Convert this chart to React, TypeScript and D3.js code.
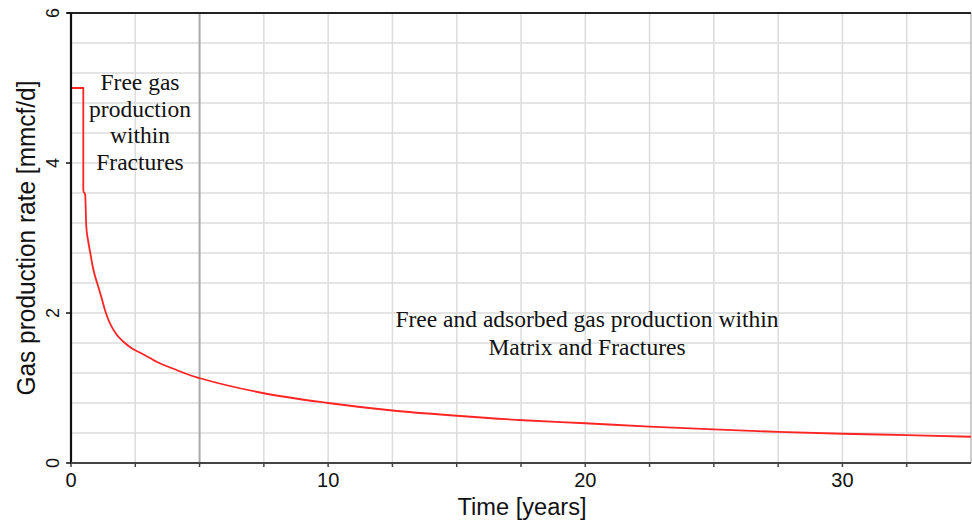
import React from "react";
import * as d3 from "d3";

// Gas production rate over time (years -> mmcf/d)
const years = [
  0, 0.478, 0.478, 0.55, 0.595, 0.673, 0.766, 0.844, 0.945, 1.06, 1.19, 1.32,
  1.49, 1.78, 2.03, 2.36, 2.75, 3.07, 3.33, 4.11, 4.63, 5.02, 7.5, 10,
  12.5, 15, 17.6, 20, 22.5, 25, 27.5, 30, 32.5, 35,
];
const rates = [
  5.0, 5.0, 3.62, 3.58, 3.15, 2.95, 2.77, 2.62, 2.48, 2.35, 2.2, 2.04, 1.88,
  1.71, 1.62, 1.53, 1.46, 1.4, 1.35, 1.24, 1.17, 1.13, 0.93, 0.8, 0.7,
  0.63, 0.57, 0.53, 0.485, 0.448, 0.415, 0.39, 0.372, 0.35,
];

const xTickLabels = [0, 10, 20, 30];
const yTickLabels = [0, 2, 4, 6];
const xGridStep = 2.5;
const yGridStep = 0.4;
const regimeBoundary = 5;

const fractureLines = ["Free gas", "production", "within", "Fractures"];
const matrixLines = [
  "Free and adsorbed gas production within",
  "Matrix and Fractures",
];

const W = 972;
const H = 521;
const plot = { left: 71, right: 971, top: 13, bottom: 463 };

export default function App() {
  const x = d3.scaleLinear().domain([0, 35]).range([plot.left, plot.right]);
  const y = d3.scaleLinear().domain([0, 6]).range([plot.bottom, plot.top]);

  const xGrid = d3.range(1, 14).map((i) => i * xGridStep);
  const yGrid = d3.range(1, 15).map((i) => i * yGridStep);

  const pts: [number, number][] = years.map((t, i) => [t, rates[i]]);
  // plateau and the sharp initial drop are straight; the decline is smoothed
  const plateau = pts.slice(0, 3);
  const decline = pts.slice(2);
  const straight = d3
    .line<[number, number]>()
    .x((d) => x(d[0]))
    .y((d) => y(d[1]));
  const smooth = d3
    .line<[number, number]>()
    .x((d) => x(d[0]))
    .y((d) => y(d[1]))
    .curve(d3.curveMonotoneX);

  const sans = "'Liberation Sans', Arial, sans-serif";
  const serif = "'Liberation Serif', 'Times New Roman', serif";

  return (
    <svg
      width={W}
      height={H}
      style={{ position: "absolute", left: 0, top: 0, background: "#fff" }}
    >
      {/* grid */}
      {yGrid.map((v) => (
        <line
          key={"gy" + v}
          x1={plot.left}
          x2={plot.right}
          y1={y(v)}
          y2={y(v)}
          stroke="#dcdcdc"
          strokeWidth={1.5}
        />
      ))}
      {xGrid
        .filter((v) => v !== regimeBoundary)
        .map((v) => (
          <line
            key={"gx" + v}
            x1={x(v)}
            x2={x(v)}
            y1={plot.top}
            y2={plot.bottom}
            stroke="#dcdcdc"
            strokeWidth={1.5}
          />
        ))}
      <line
        x1={x(regimeBoundary)}
        x2={x(regimeBoundary)}
        y1={plot.top}
        y2={plot.bottom}
        stroke="#aaaaaa"
        strokeWidth={2}
      />

      {/* frame */}
      <line x1={plot.right} x2={plot.right} y1={plot.top} y2={plot.bottom} stroke="#bbbbbb" strokeWidth={1.5} />
      <line x1={plot.left - 4} x2={plot.right} y1={plot.top} y2={plot.top} stroke="#222" strokeWidth={2} />

      {/* production curve */}
      <path d={straight(plateau) ?? ""} fill="none" stroke="#ff2424" strokeWidth={1.8} />
      <path d={smooth(decline) ?? ""} fill="none" stroke="#ff2424" strokeWidth={1.8} />

      {/* axes */}
      <line x1={plot.left} x2={plot.left} y1={plot.top} y2={plot.bottom + 1} stroke="#111" strokeWidth={2.2} />
      <line x1={plot.left} x2={plot.right} y1={plot.bottom} y2={plot.bottom} stroke="#444" strokeWidth={2.2} />
      {[0, ...xGrid].map((v) => (
        <line key={"tx" + v} x1={x(v)} x2={x(v)} y1={plot.bottom} y2={plot.bottom + 4} stroke="#444" strokeWidth={1.5} />
      ))}
      {yTickLabels.map((v) => (
        <line key={"ty" + v} x1={plot.left - 5} x2={plot.left} y1={y(v)} y2={y(v)} stroke="#111" strokeWidth={1.5} />
      ))}

      {xTickLabels.map((v) => (
        <text
          key={"lx" + v}
          x={x(v)}
          y={487}
          textAnchor="middle"
          fontFamily={sans}
          fontSize={20}
          fill="#111"
        >
          {v}
        </text>
      ))}
      {yTickLabels.map((v) => (
        <text
          key={"ly" + v}
          transform={`translate(59,${y(v)}) rotate(-90)`}
          textAnchor="middle"
          fontFamily={sans}
          fontSize={18}
          fill="#111"
        >
          {v}
        </text>
      ))}

      {/* axis titles */}
      <text
        x={(plot.left + plot.right) / 2 + 1}
        y={515}
        textAnchor="middle"
        fontFamily={sans}
        fontSize={23}
        fill="#111"
        textLength={129}
        lengthAdjust="spacingAndGlyphs"
      >
        Time [years]
      </text>
      <text
        transform={`translate(35,${(plot.top + plot.bottom) / 2}) rotate(-90)`}
        textAnchor="middle"
        fontFamily={sans}
        fontSize={25}
        fill="#111"
        textLength={315}
        lengthAdjust="spacingAndGlyphs"
      >
        Gas production rate [mmcf/d]
      </text>

      {/* regime annotations */}
      {fractureLines.map((s, i) => (
        <text
          key={"f" + i}
          x={140}
          y={90 + i * 26.7}
          textAnchor="middle"
          fontFamily={serif}
          fontSize={23.5}
          fill="#111"
        >
          {s}
        </text>
      ))}
      {matrixLines.map((s, i) => (
        <text
          key={"m" + i}
          x={587}
          y={327 + i * 28}
          textAnchor="middle"
          fontFamily={serif}
          fontSize={23.5}
          fill="#111"
        >
          {s}
        </text>
      ))}
    </svg>
  );
}
